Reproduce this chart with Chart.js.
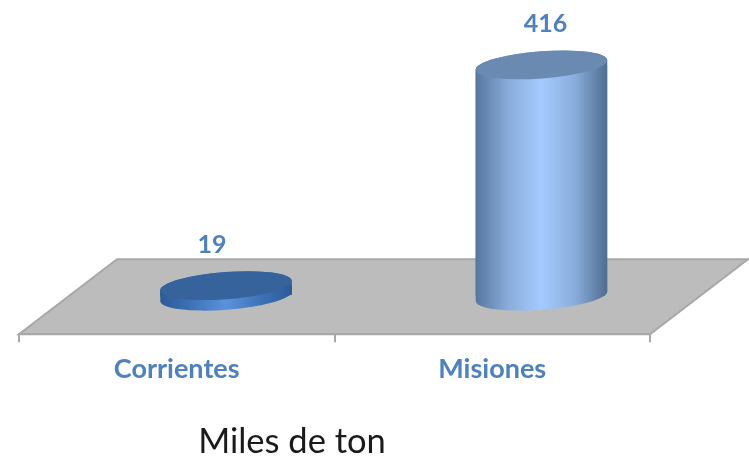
<!DOCTYPE html>
<html>
<head>
<meta charset="utf-8">
<style>
  html, body { margin: 0; padding: 0; background: #fff; }
  #grafico { display: block; }
</style>
<script src="https://cdn.jsdelivr.net/npm/chart.js@4"></script>
</head>
<body>
<canvas id="grafico" width="749" height="462"></canvas>
<script>
const categorias = ['Corrientes', 'Misiones'];
const valores = [19, 416];
const unidad = 'Miles de ton';

// Desplazamiento de la perspectiva: el piso y las barras van corridos respecto del eje
const fondoX = 98, fondoY = 75;
const barraX = 49.25, barraY = -38;
const radioY = 13.6, giro = -0.075;
const desvioEtiqueta = [-14, 4];

// Colores de cada cilindro: lateral (borde, medio, centro, medio, borde) y tapa
const lateral = [
    ['#2c5a96', '#3f74b8', '#5a92dc', '#3f74b8', '#2c5a96'],
    ['#55779f', '#8aacd9', '#a4cbff', '#8aaedc', '#4f6c90'],
];
const tapa = ['#36639c', '#6a8ab2'];
const azul = '#4f81bd';
const gris = '#a8a8a8';

function gradienteLateral(ctx, centro, ancho, i) {
    const g = ctx.createLinearGradient(centro - ancho / 2, 0, centro + ancho / 2, 0);
    [0, 0.25, 0.5, 0.75, 1].forEach((p, k) => g.addColorStop(p, lateral[i][k]));
    return g;
}

function silueta(ctx, bar) {
    const rx = bar.width / 2;
    ctx.ellipse(bar.x, bar.y, rx, radioY, giro, Math.PI, 2 * Math.PI);
    ctx.ellipse(bar.x, bar.base, rx, radioY, giro, 0, Math.PI);
    ctx.closePath();
}

const pisoPlugin = {
    id: 'piso',
    beforeDraw(chart) {
        const { ctx, chartArea: a } = chart;
        ctx.save();
        ctx.beginPath();
        ctx.moveTo(a.left, a.bottom);
        ctx.lineTo(a.right, a.bottom);
        ctx.lineTo(a.right + fondoX, a.bottom - fondoY);
        ctx.lineTo(a.left + fondoX, a.bottom - fondoY);
        ctx.closePath();
        ctx.fillStyle = '#bcbcbc';
        ctx.fill();
        ctx.strokeStyle = gris;
        ctx.lineWidth = 2;
        ctx.stroke();
        ctx.restore();
    },
};

const cilindroPlugin = {
    id: 'cilindro',
    beforeDatasetDraw(chart, args) {
        const { ctx } = chart;
        ctx.save();
        ctx.translate(barraX, barraY);
        // Cuerpo completo con la base redondeada, debajo del rectangulo de la barra
        args.meta.data.forEach((bar, i) => {
            ctx.fillStyle = gradienteLateral(ctx, bar.x, bar.width, i);
            ctx.beginPath();
            silueta(ctx, bar);
            ctx.fill();
        });
        // Recorte de las esquinas con la silueta de todos los cilindros
        ctx.beginPath();
        args.meta.data.forEach((bar) => silueta(ctx, bar));
        ctx.clip();
    },
    afterDatasetDraw(chart, args) {
        const { ctx } = chart;
        ctx.restore();
        ctx.save();
        ctx.translate(barraX, barraY);
        args.meta.data.forEach((bar, i) => {
            ctx.fillStyle = tapa[i];
            ctx.beginPath();
            ctx.ellipse(bar.x, bar.y, bar.width / 2, radioY, giro, 0, 2 * Math.PI);
            ctx.fill();
        });
        ctx.restore();
    },
    afterDraw(chart) {
        const { ctx, chartArea: a } = chart;
        const meta = chart.getDatasetMeta(0);
        ctx.save();
        ctx.textAlign = 'center';
        ctx.textBaseline = 'middle';
        ctx.fillStyle = azul;
        ctx.font = 'bold 25px Lato';
        meta.data.forEach((bar, i) => {
            ctx.fillText(String(valores[i]), bar.x + barraX + desvioEtiqueta[i], bar.y + barraY - 40.5);
        });
        ctx.fillStyle = '#1a1a1a';
        ctx.font = '34.5px Lato';
        ctx.fillText(unidad, a.left + 273, a.bottom + 108);
        ctx.restore();
    },
};

new Chart(document.getElementById('grafico'), {
    type: 'bar',
    data: {
        labels: categorias,
        datasets: [{
            data: valores,
            barPercentage: 1,
            categoryPercentage: 0.418,
            borderWidth: 0,
            clip: false,
            backgroundColor: (c) => {
                const x = c.chart.scales.x;
                if (!c.chart.chartArea || !x) return lateral[c.dataIndex][2];
                const ancho = (x.width / categorias.length) * 0.418;
                return gradienteLateral(c.chart.ctx, x.getPixelForValue(c.dataIndex), ancho, c.dataIndex);
            },
        }],
    },
    options: {
        responsive: false,
        animation: false,
        layout: { padding: { left: 19, right: 99, top: 34, bottom: 65.4 } },
        plugins: { legend: { display: false }, tooltip: { enabled: false } },
        scales: {
            x: {
                grid: { display: true, drawOnChartArea: false, drawTicks: true, tickLength: 8, color: gris, lineWidth: 2 },
                border: { display: true, color: gris, width: 2 },
                ticks: {
                    color: azul,
                    font: { family: 'Lato', size: 27, weight: 'bold' },
                    padding: 11,
                    maxRotation: 0,
                    autoSkip: false,
                },
            },
            y: { display: false, min: 0, max: 540 },
        },
    },
    plugins: [pisoPlugin, cilindroPlugin],
});
</script>
</body>
</html>
